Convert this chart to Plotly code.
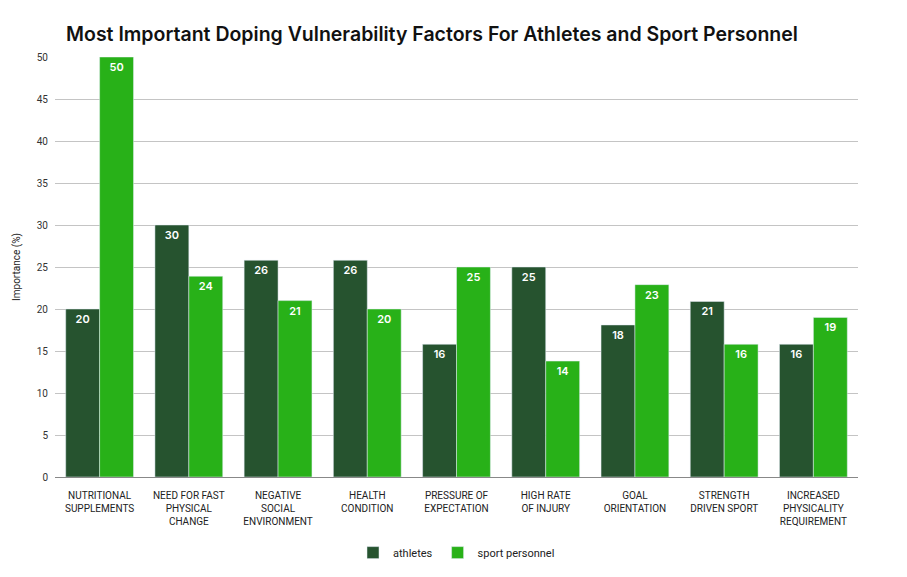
import plotly.graph_objects as go

# ==================== Data ====================
categories = [
    "NUTRITIONAL<br>SUPPLEMENTS",
    "NEED FOR FAST<br>PHYSICAL<br>CHANGE",
    "NEGATIVE<br>SOCIAL<br>ENVIRONMENT",
    "HEALTH<br>CONDITION",
    "PRESSURE OF<br>EXPECTATION",
    "HIGH RATE<br>OF INJURY",
    "GOAL<br>ORIENTATION",
    "STRENGTH<br>DRIVEN SPORT",
    "INCREASED<br>PHYSICALITY<br>REQUIREMENT",
]
athletes = [20, 30, 25.8, 25.8, 15.8, 25, 18.1, 20.9, 15.8]
sport_personnel = [50, 23.9, 21, 20, 25, 13.8, 22.9, 15.8, 19]

# ==================== Plot ====================
fig = go.Figure()

label_font = dict(color='white', size=11, family='Inter', weight=600)

fig.add_trace(go.Bar(
    x=categories,
    y=athletes,
    name='athletes',
    marker=dict(color='#26532F'),
    texttemplate='%{y:.0f}',
    textposition='inside',
    insidetextanchor='end',
    textfont=label_font,
))

fig.add_trace(go.Bar(
    x=categories,
    y=sport_personnel,
    name='sport personnel',
    marker=dict(color='#28B118'),
    texttemplate='%{y:.0f}',
    textposition='inside',
    insidetextanchor='end',
    textfont=label_font,
))

# ==================== Layout Settings ====================
# the page body has an 8px margin, so margins are shifted to compensate
fig.update_layout(
    title=dict(
        text='Most Important Doping Vulnerability Factors For Athletes and Sport Personnel',
        x=0.064, xanchor='left', y=0.955, yanchor='middle',
        font=dict(family='Inter', size=19.5, color='#111111', weight=600),
    ),
    width=907,
    height=577,
    margin=dict(l=47, r=57, t=49, b=108, autoexpand=False),
    plot_bgcolor='white',
    paper_bgcolor='white',
    barmode='group',
    bargap=0.24,
    bargroupgap=0,
    font=dict(family='Roboto', size=10, color='#222222'),
    legend=dict(
        orientation='h', x=0.5, xanchor='center', y=-0.18, yanchor='middle',
        font=dict(size=11, family='Roboto'),
        itemwidth=30,
    ),
    xaxis=dict(
        tickfont=dict(size=10, family='Roboto'),
        showline=True, linecolor='#888888', linewidth=1,
        ticks='', ticklabelstandoff=9,
    ),
    yaxis=dict(
        title=dict(text='Importance (%)', font=dict(size=10, family='Roboto'), standoff=14),
        range=[0, 50],
        dtick=5,
        showgrid=True, gridcolor='#c4c4c4', gridwidth=1,
        zeroline=False,
        tickfont=dict(size=10, family='Roboto', color='#333333'),
        ticks='', ticklabelstandoff=6,
    ),
)

fig.write_html("out.html")
